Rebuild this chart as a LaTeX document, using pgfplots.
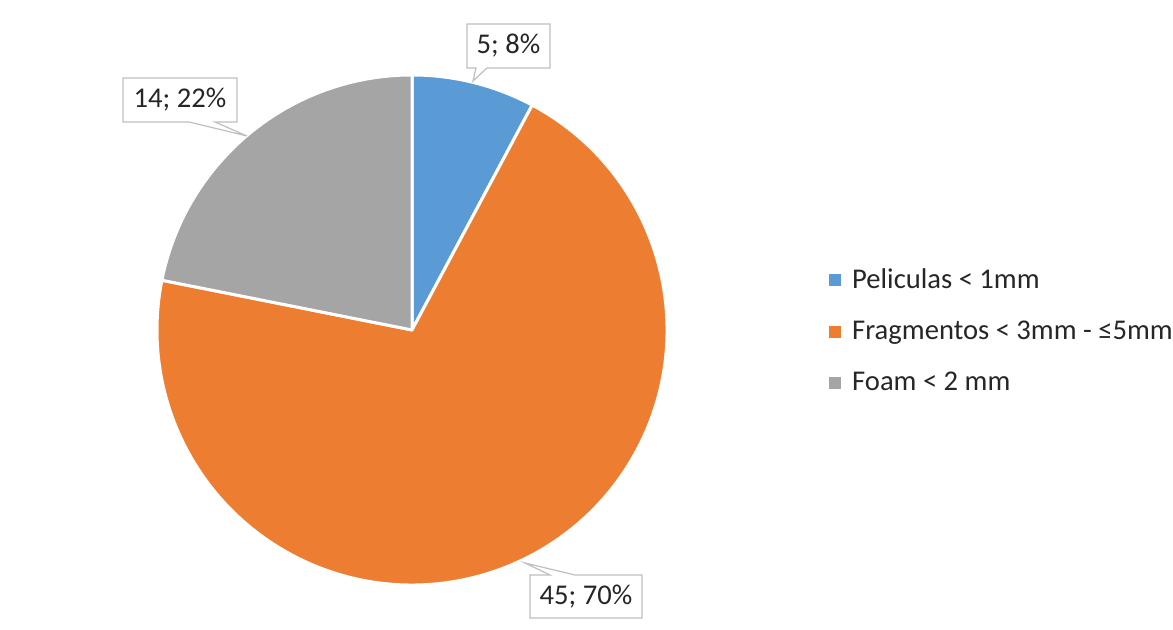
\documentclass[border=0pt]{standalone}
\usepackage{pgfplots}
\pgfplotsset{compat=1.18}
\usepackage{pgfplotstable}
\usepackage{fontspec}
\setmainfont{Carlito}
\definecolor{c1}{HTML}{5B9BD5}
\definecolor{c2}{HTML}{ED7D31}
\definecolor{c3}{HTML}{A5A5A5}
\definecolor{cb}{HTML}{BFBFBF}
\definecolor{tx}{HTML}{262626}
\pgfplotstableread{
label value
Peliculas 5
Fragmentos 45
Foam 14
}\piedata
\begin{document}
\begin{tikzpicture}
\pgfplotstablegetelem{0}{value}\of\piedata \let\va\pgfplotsretval
\pgfplotstablegetelem{1}{value}\of\piedata \let\vb\pgfplotsretval
\pgfplotstablegetelem{2}{value}\of\piedata \let\vc\pgfplotsretval
\pgfmathsetmacro\tot{\va+\vb+\vc}
\pgfmathsetmacro\aA{90-360*\va/\tot}
\pgfmathsetmacro\aB{\aA-360*\vb/\tot}
\pgfmathsetmacro\aC{\aB-360*\vc/\tot}
\begin{axis}[
  name=ax,
  x=0.5pt, y=0.5pt,
  xmin=0, xmax=1173, ymin=0, ymax=630,
  hide axis, clip=false,
  legend style={draw=none, fill=none, at={(axis cs:829,299)}, anchor=west,
    font=\fontsize{14.3}{17}\selectfont\color{tx}, row sep=10.8pt, inner sep=0pt},
  legend cell align=left,
]
\addlegendimage{legend image code/.code={\fill[c1] (0pt,-2.7pt) rectangle (5.4pt,2.7pt); \path (9pt,0pt);}}
\addlegendentry{Peliculas < 1mm}
\addlegendimage{legend image code/.code={\fill[c2] (0pt,-2.7pt) rectangle (5.4pt,2.7pt); \path (9pt,0pt);}}
\addlegendentry{Fragmentos < 3mm - ≤5mm}
\addlegendimage{legend image code/.code={\fill[c3] (0pt,-2.7pt) rectangle (5.4pt,2.7pt); \path (9pt,0pt);}}
\addlegendentry{Foam < 2 mm}
% slices
\filldraw[fill=c1, draw=white, line width=1.5pt, line join=round]
  (axis cs:412,300) -- ([shift={(90:127.5pt)}]axis cs:412,300)
  arc[start angle=90, end angle=\aA, radius=127.5pt] -- cycle;
\filldraw[fill=c2, draw=white, line width=1.5pt, line join=round]
  (axis cs:412,300) -- ([shift={(\aA:127.5pt)}]axis cs:412,300)
  arc[start angle=\aA, end angle=\aB, radius=127.5pt] -- cycle;
\filldraw[fill=c3, draw=white, line width=1.5pt, line join=round]
  (axis cs:412,300) -- ([shift={(\aB:127.5pt)}]axis cs:412,300)
  arc[start angle=\aB, end angle=\aC, radius=127.5pt] -- cycle;
% callouts
\filldraw[fill=white, draw=cb, line width=0.6pt]
  (axis cs:467,606) -- (axis cs:550,606) -- (axis cs:550,562) -- (axis cs:487,562)
  -- (axis cs:473,549) -- (axis cs:476,562) -- (axis cs:467,562) -- cycle;
\node[font=\fontsize{14.3}{17}\selectfont, text=tx] at (axis cs:508.5,584) {5; 8\%};
\filldraw[fill=white, draw=cb, line width=0.6pt]
  (axis cs:123,552) -- (axis cs:237,552) -- (axis cs:237,508) -- (axis cs:215,508)
  -- (axis cs:247,494) -- (axis cs:189,508) -- (axis cs:123,508) -- cycle;
\node[font=\fontsize{14.3}{17}\selectfont, text=tx] at (axis cs:180,530) {14; 22\%};
\filldraw[fill=white, draw=cb, line width=0.6pt]
  (axis cs:530,55) -- (axis cs:530,12) -- (axis cs:642,12) -- (axis cs:642,55)
  -- (axis cs:575,55) -- (axis cs:525,67) -- (axis cs:550,55) -- cycle;
\node[font=\fontsize{14.3}{17}\selectfont, text=tx] at (axis cs:586,33.5) {45; 70\%};
\end{axis}
\pgfresetboundingbox
\useasboundingbox (ax.south west) rectangle (ax.north east);
\end{tikzpicture}
\end{document}
